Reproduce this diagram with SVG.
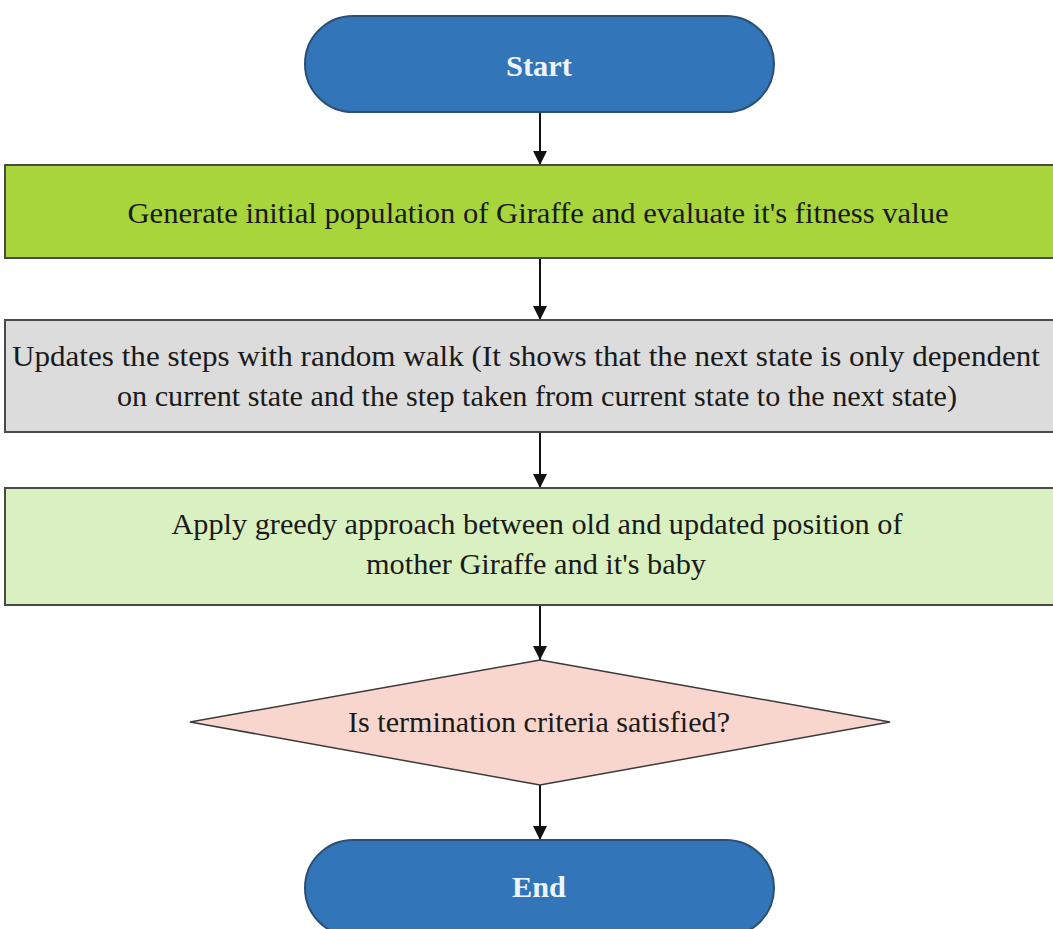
<svg xmlns="http://www.w3.org/2000/svg" width="1053" height="929" viewBox="0 0 1053 929">
<defs>
<marker id="arr" viewBox="0 0 10 10" refX="10" refY="5" markerWidth="14" markerHeight="14" markerUnits="userSpaceOnUse" orient="auto"><path d="M0,0 L10,5 L0,10 z" fill="#111"/></marker>
<style>
.t{font-family:"Liberation Serif","Times New Roman",serif;font-size:29px;fill:#1a1a1a;text-anchor:middle}
.b{font-family:"Liberation Serif","Times New Roman",serif;font-size:29px;font-weight:bold;fill:#eef4fb;text-anchor:middle}
.box{stroke:#4a4a4a;stroke-width:2}
.pill{fill:#3275b8;stroke:#2b4f73;stroke-width:2}
.c{stroke:#111;stroke-width:2;fill:none;marker-end:url(#arr)}
</style>
</defs>
<rect width="1053" height="929" fill="#ffffff"/>
<g id="connectors">
<line class="c" x1="540" y1="112" x2="540" y2="165"/>
<line class="c" x1="540" y1="258" x2="540" y2="320"/>
<line class="c" x1="540" y1="432" x2="540" y2="488"/>
<line class="c" x1="540" y1="605" x2="540" y2="660"/>
<line class="c" x1="540" y1="785" x2="540" y2="840"/>
</g>
<g id="start">
<rect class="pill" x="305" y="16" width="469" height="96" rx="48"/>
<text class="b" x="539" y="76" textLength="66" lengthAdjust="spacingAndGlyphs">Start</text>
</g>
<g id="generate">
<rect class="box" x="5" y="165" width="1055" height="93" fill="#a8d43c"/>
<text class="t" x="538" y="223" textLength="821" lengthAdjust="spacingAndGlyphs">Generate initial population of Giraffe and evaluate it's fitness value</text>
</g>
<g id="update">
<rect class="box" x="5" y="320" width="1055" height="112" fill="#dcdcdc"/>
<text class="t" x="526" y="366" textLength="1028" lengthAdjust="spacingAndGlyphs">Updates the steps with random walk (It shows that the next state is only dependent</text>
<text class="t" x="537" y="406" textLength="840" lengthAdjust="spacingAndGlyphs">on current state and the step taken from current state to the next state)</text>
</g>
<g id="greedy">
<rect class="box" x="5" y="488" width="1055" height="117" fill="#d9f1c1"/>
<text class="t" x="537" y="534" textLength="731" lengthAdjust="spacingAndGlyphs">Apply greedy approach between old and updated position of</text>
<text class="t" x="536" y="574" textLength="340" lengthAdjust="spacingAndGlyphs">mother Giraffe and it's baby</text>
</g>
<g id="decision">
<polygon points="540,660 890,722 540,785 190,722" fill="#f9d6cd" stroke="#3a3a3a" stroke-width="1.5"/>
<text class="t" x="539" y="732" textLength="382" lengthAdjust="spacingAndGlyphs">Is termination criteria satisfied?</text>
</g>
<g id="end">
<rect class="pill" x="305" y="840" width="469" height="96" rx="48"/>
<text class="b" x="539" y="897" textLength="54" lengthAdjust="spacingAndGlyphs">End</text>
</g>
</svg>
